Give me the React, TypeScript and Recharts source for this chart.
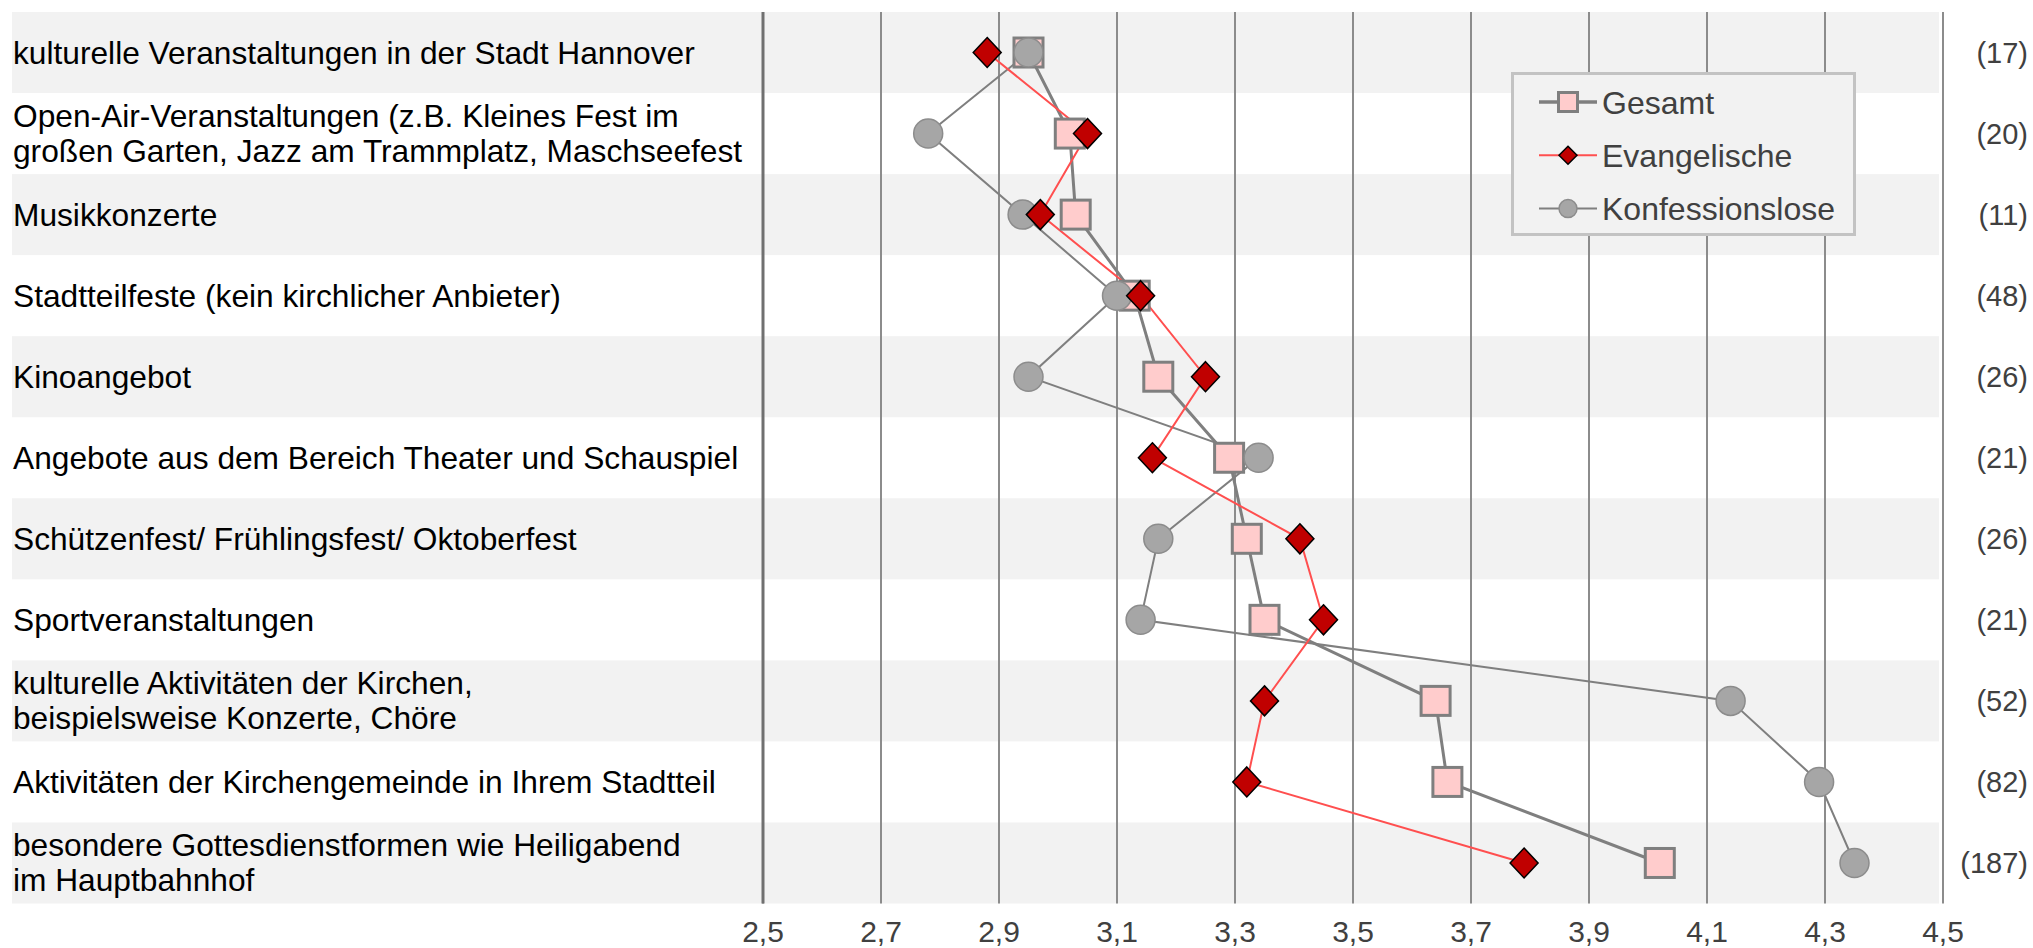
import React from "react";
import { LineChart, Line, XAxis, YAxis, CartesianGrid, ReferenceArea, Legend } from "recharts";

const categories = [
  "kulturelle Veranstaltungen in der Stadt Hannover",
  "Open-Air-Veranstaltungen (z.B. Kleines Fest im\ngroßen Garten, Jazz am Trammplatz, Maschseefest",
  "Musikkonzerte",
  "Stadtteilfeste (kein kirchlicher Anbieter)",
  "Kinoangebot",
  "Angebote aus dem Bereich Theater und Schauspiel",
  "Schützenfest/ Frühlingsfest/ Oktoberfest",
  "Sportveranstaltungen",
  "kulturelle Aktivitäten der Kirchen,\nbeispielsweise Konzerte, Chöre",
  "Aktivitäten der Kirchengemeinde in Ihrem Stadtteil",
  "besondere Gottesdienstformen wie Heiligabend\nim Hauptbahnhof",
];
const respondents = [17, 20, 11, 48, 26, 21, 26, 21, 52, 82, 187];
const gesamt = [2.95, 3.02, 3.03, 3.13, 3.17, 3.29, 3.32, 3.35, 3.64, 3.66, 4.02];
const evangelische = [2.88, 3.05, 2.97, 3.14, 3.25, 3.16, 3.41, 3.45, 3.35, 3.32, 3.79];
const konfessionslose = [2.95, 2.78, 2.94, 3.1, 2.95, 3.34, 3.17, 3.14, 4.14, 4.29, 4.35];
const xTicks = [2.5, 2.7, 2.9, 3.1, 3.3, 3.5, 3.7, 3.9, 4.1, 4.3, 4.5];
const legendOrder = ["Gesamt", "Evangelische", "Konfessionslose"];

const data = categories.map((name, i) => ({
  name,
  n: respondents[i],
  gesamt: gesamt[i],
  evangelische: evangelische[i],
  konfessionslose: konfessionslose[i],
}));

const FONT = '"Liberation Sans", Arial, sans-serif';
const GREY = "#7f7f7f";
const BAND = "#f2f2f2";
const TEXT = "#404040";

const WIDTH = 2033;
const HEIGHT = 948;
const TOP = 12;
const X_AXIS_H = 44.5;
const ROW = (HEIGHT - TOP - X_AXIS_H) / categories.length;

// category labels sit at the far left, over the row bands
function CategoryTick(props: any) {
  const { y, payload } = props;
  const lines = String(payload.value).split("\n");
  return (
    <text fontFamily={FONT} fontSize={31.7} fill="#000">
      {lines.map((l, i) => (
        <tspan key={i} x={13} y={y + 11 + (i - (lines.length - 1) / 2) * 35}>
          {l}
        </tspan>
      ))}
    </text>
  );
}

function CountTick(props: any) {
  const { y, payload } = props;
  return (
    <text x={2028} y={y + 10.5} textAnchor="end" fontFamily={FONT} fontSize={29} fill={TEXT}>
      ({respondents[payload.index]})
    </text>
  );
}

function ValueTick(props: any) {
  const { x, y, payload } = props;
  return (
    <text x={x} y={y + 38.5} textAnchor="middle" fontFamily={FONT} fontSize={30} fill={TEXT}>
      {payload.value.toFixed(1).replace(".", ",")}
    </text>
  );
}

// grey row band, stretched left under the category label
const bandShape = (p: any) => <rect x={12} y={p.y - ROW / 2} width={1927} height={ROW} fill={BAND} />;

const squareDot = (p: any) => (
  <rect key={`g${p.index}`} x={p.cx - 14.5} y={p.cy - 14.5} width={29} height={29} fill="#ffcccc" stroke={GREY} strokeWidth={3} />
);

const diamondDot = (p: any) => (
  <path
    key={`e${p.index}`}
    d={`M${p.cx},${p.cy - 15}L${p.cx + 14},${p.cy}L${p.cx},${p.cy + 15}L${p.cx - 14},${p.cy}Z`}
    fill="#c00000"
    stroke="#000"
    strokeWidth={1.5}
  />
);

function marker(name: string, cx: number, cy: number) {
  if (name === "Gesamt")
    return <rect x={cx - 9.5} y={cy - 9.5} width={19} height={19} fill="#ffcccc" stroke={GREY} strokeWidth={3} />;
  if (name === "Evangelische")
    return <path d={`M${cx},${cy - 9}L${cx + 9},${cy}L${cx},${cy + 9}L${cx - 9},${cy}Z`} fill="#c00000" stroke="#000" strokeWidth={1.5} />;
  return <circle cx={cx} cy={cy} r={9} fill="#a6a6a6" stroke="#8c8c8c" strokeWidth={1.5} />;
}

function LegendBox(props: any) {
  const entries = [...(props.payload || [])].sort(
    (a: any, b: any) => legendOrder.indexOf(a.value) - legendOrder.indexOf(b.value)
  );
  return (
    <svg width={346} height={165} style={{ display: "block" }}>
      <rect x={1.5} y={1.5} width={342} height={161} fill={BAND} stroke="#c3c3c3" strokeWidth={3} />
      {entries.map((e: any, i: number) => {
        const cy = 30 + i * 53.3;
        return (
          <g key={e.value}>
            <line x1={28} x2={86} y1={cy} y2={cy} stroke={e.color} strokeWidth={e.value === "Gesamt" ? 3.5 : 2} />
            {marker(e.value, 57, cy)}
            <text x={91} y={cy + 11.5} fontFamily={FONT} fontSize={32} fill={TEXT}>
              {e.value}
            </text>
          </g>
        );
      })}
    </svg>
  );
}

export default function App() {
  return (
    <div style={{ position: "absolute", left: 0, top: 0, width: WIDTH, height: HEIGHT, background: "#fff" }}>
      <LineChart
        width={WIDTH}
        height={HEIGHT}
        data={data}
        layout="vertical"
        margin={{ top: TOP, right: 0, bottom: 0, left: 0 }}
      >
        {categories
          .filter((_, i) => i % 2 === 0)
          .map((c) => (
            <ReferenceArea key={c} y1={c} y2={c} shape={bandShape} ifOverflow="visible" zIndex={-200} />
          ))}
        <CartesianGrid horizontal={false} stroke="#8c8c8c" strokeWidth={2} zIndex={-100} />
        <XAxis
          type="number"
          domain={[2.5, 4.5]}
          ticks={xTicks}
          interval={0}
          height={X_AXIS_H}
          axisLine={false}
          tickLine={false}
          tickSize={0}
          tickMargin={0}
          tick={<ValueTick />}
        />
        <YAxis
          type="category"
          dataKey="name"
          width={763}
          interval={0}
          padding={{ top: ROW / 2, bottom: ROW / 2 }}
          axisLine={{ stroke: "#707070", strokeWidth: 3 }}
          tickLine={false}
          tick={<CategoryTick />}
        />
        <YAxis
          yAxisId="count"
          orientation="right"
          type="category"
          dataKey="name"
          width={90}
          interval={0}
          padding={{ top: ROW / 2, bottom: ROW / 2 }}
          axisLine={false}
          tickLine={false}
          tick={<CountTick />}
        />
        <Line
          name="Gesamt"
          dataKey="gesamt"
          type="linear"
          stroke={GREY}
          strokeWidth={3}
          dot={squareDot}
          activeDot={false}
          isAnimationActive={false}
        />
        <Line
          name="Konfessionslose"
          dataKey="konfessionslose"
          type="linear"
          stroke={GREY}
          strokeWidth={2}
          dot={{ r: 14.5, fill: "#a6a6a6", stroke: "#8c8c8c", strokeWidth: 1.5 }}
          activeDot={false}
          isAnimationActive={false}
        />
        <Line
          name="Evangelische"
          dataKey="evangelische"
          type="linear"
          stroke="#ff4f4f"
          strokeWidth={2}
          dot={diamondDot}
          activeDot={false}
          isAnimationActive={false}
        />
        <Legend
          layout="horizontal"
          verticalAlign="middle"
          align="center"
          wrapperStyle={{ left: 1511, top: 72, width: 346, height: 165 }}
          content={<LegendBox />}
        />
      </LineChart>
    </div>
  );
}
